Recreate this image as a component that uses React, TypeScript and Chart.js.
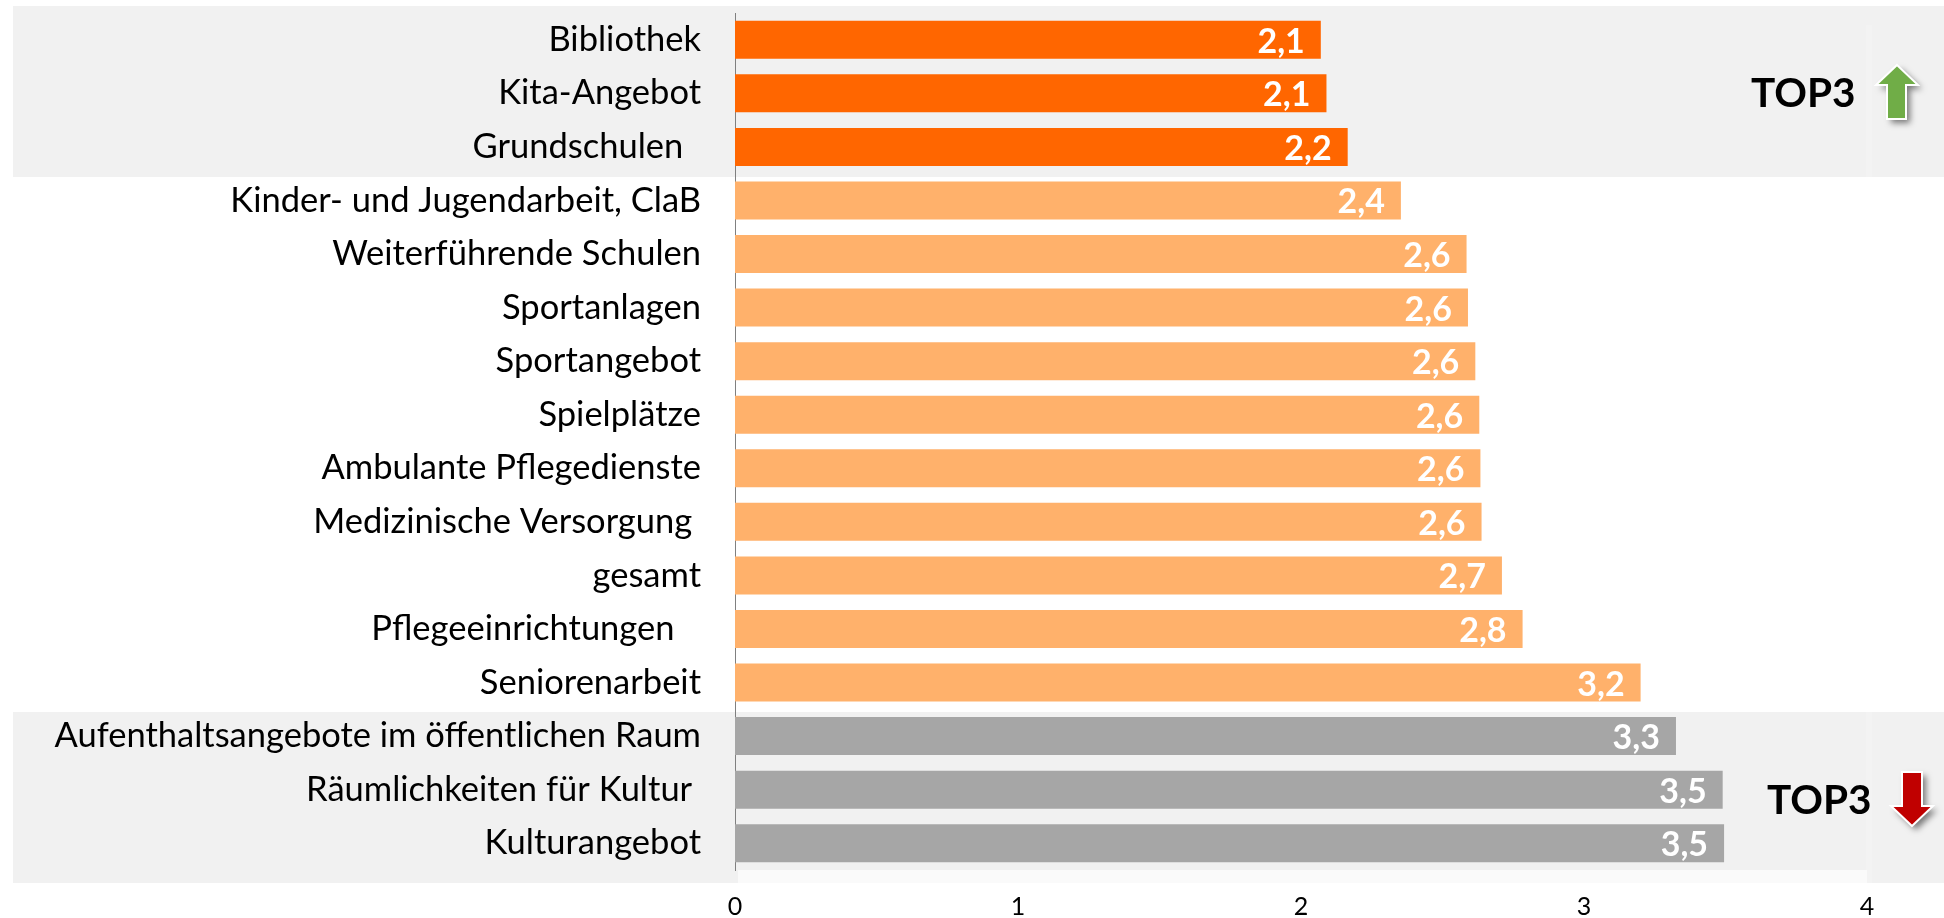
import React, { useEffect, useRef } from "react";
import { Chart, registerables } from "chart.js";

Chart.register(...registerables);

const categories = [
  "Bibliothek", "Kita-Angebot", "Grundschulen  ", "Kinder- und Jugendarbeit, ClaB", "Weiterführende Schulen",
  "Sportanlagen", "Sportangebot", "Spielplätze", "Ambulante Pflegedienste", "Medizinische Versorgung ",
  "gesamt", "Pflegeeinrichtungen   ", "Seniorenarbeit", "Aufenthaltsangebote im öffentlichen Raum",
  "Räumlichkeiten für Kultur ", "Kulturangebot",
];
const values = [2.07, 2.09, 2.165, 2.353, 2.585, 2.59, 2.616, 2.63, 2.634, 2.638, 2.71, 2.783, 3.2, 3.325, 3.49, 3.495];
const valueLabels = ["2,1", "2,1", "2,2", "2,4", "2,6", "2,6", "2,6", "2,6", "2,6", "2,6", "2,7", "2,8", "3,2", "3,3", "3,5", "3,5"];
const barColors = [
  "#ff6600", "#ff6600", "#ff6600", "#ffb16b", "#ffb16b", "#ffb16b", "#ffb16b", "#ffb16b",
  "#ffb16b", "#ffb16b", "#ffb16b", "#ffb16b", "#ffb16b", "#a6a6a6", "#a6a6a6", "#a6a6a6",
];
const xTicks = ["0", "1", "2", "3", "4"];
const font = "Lato";

const overlay = {
  id: "overlay",
  beforeDraw(chart: any) {
    const { ctx, width } = chart;
    ctx.save();
    ctx.fillStyle = "#f1f1f1";
    ctx.fillRect(13, 6, width - 13, 171);
    ctx.fillRect(13, 712, width - 13, 171);
    ctx.fillStyle = "#fafafa";
    ctx.fillRect(738, 870, 1129, 13);
    ctx.fillStyle = "rgba(255,255,255,0.15)";
    ctx.fillRect(1866, 25, 6, 858);
    ctx.restore();
  },
  afterDatasetsDraw(chart: any) {
    const { ctx } = chart;
    const meta = chart.getDatasetMeta(0);
    ctx.save();
    ctx.fillStyle = "#ffffff";
    ctx.font = `bold 34px ${font}`;
    ctx.textAlign = "right";
    ctx.textBaseline = "middle";
    meta.data.forEach((bar: any, i: number) => {
      ctx.fillText(valueLabels[i], bar.x - 16, bar.y + 2);
    });
    const arrow = (pts: number[][], fill: string) => {
      ctx.save();
      ctx.shadowColor = "rgba(0,0,0,0.5)";
      ctx.shadowBlur = 6;
      ctx.shadowOffsetX = 4;
      ctx.shadowOffsetY = 4;
      ctx.beginPath();
      pts.forEach((p, k) => (k ? ctx.lineTo(p[0], p[1]) : ctx.moveTo(p[0], p[1])));
      ctx.closePath();
      ctx.fillStyle = fill;
      ctx.strokeStyle = "#ffffff";
      ctx.lineWidth = 2;
      ctx.fill();
      ctx.shadowColor = "transparent";
      ctx.stroke();
      ctx.restore();
    };
    arrow([[1897, 65], [1918, 85], [1906, 85], [1906, 119], [1887, 119], [1887, 85], [1876, 85]], "#70ad47");
    arrow([[1912, 826], [1933, 806], [1922, 806], [1922, 772], [1902, 772], [1902, 806], [1891, 806]], "#c00000");
    ctx.fillStyle = "#000000";
    ctx.font = `bold 40.5px ${font}`;
    ctx.textAlign = "left";
    ctx.fillText("TOP3", 1751, 94);
    ctx.fillText("TOP3", 1767, 801);
    ctx.restore();
  },
};

export default function App() {
  const ref = useRef<HTMLCanvasElement>(null);
  useEffect(() => {
    document.body.style.margin = "0";
    const chart = new Chart(ref.current!, {
      type: "bar",
      data: {
        labels: categories,
        datasets: [{ data: values, backgroundColor: barColors, categoryPercentage: 1, barPercentage: 0.71 }],
      },
      plugins: [overlay],
      options: {
        indexAxis: "y",
        animation: false,
        responsive: false,
        layout: { padding: { left: 0, right: 77, top: 13, bottom: 0 } },
        plugins: { legend: { display: false }, tooltip: { enabled: false } },
        scales: {
          y: {
            afterFit(s: any) { s.width = 735; s.paddingTop = 0; s.paddingBottom = 0; },
            grid: { display: false, drawTicks: false },
            border: { color: "#808080", width: 1 },
            ticks: {
              color: "#000000",
              padding: 34,
              autoSkip: false,
              font: { family: font, size: 34.5 },
            },
          },
          x: {
            min: 0,
            max: 4,
            afterFit(s: any) { s.height = 48; s.paddingLeft = 0; s.paddingRight = 0; },
            afterBuildTicks(s: any) { s.ticks = xTicks.map((t) => ({ value: Number(t) })); },
            grid: { display: false, drawTicks: false },
            border: { display: false },
            ticks: { color: "#000000", padding: 22, font: { family: font, size: 25 } },
          },
        },
      },
    } as any);
    return () => chart.destroy();
  }, []);
  return <canvas ref={ref} width={1944} height={918} style={{ display: "block" }} />;
}
